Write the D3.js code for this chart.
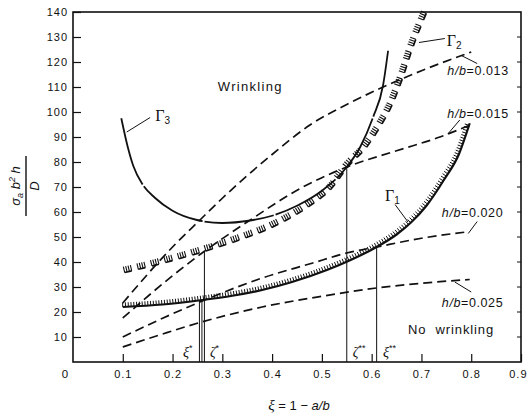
<!DOCTYPE html>
<html>
<head>
<meta charset="utf-8">
<script src="https://cdn.jsdelivr.net/npm/d3@7"></script>
<style>
  body { margin: 0; background: #fff; }
  svg text { font-family: "Liberation Sans", Arial, sans-serif; fill: #111; }
  .tick text { font-size: 11px; letter-spacing: 1px; }
</style>
</head>
<body>
<svg width="528" height="416"></svg>
<script>
// tick values
const xTicks = [0.1, 0.2, 0.3, 0.4, 0.5, 0.6, 0.7, 0.8, 0.9];
const yTicks = [10, 20, 30, 40, 50, 60, 70, 80, 90, 100, 110, 120, 130, 140];

// boundary curves (xi, value)
const gamma1Xi = [0.1, 0.18, 0.26, 0.32, 0.38, 0.44, 0.51, 0.56, 0.61, 0.65, 0.68, 0.71, 0.745, 0.775, 0.797];
const gamma1V  = [22, 23, 24.8, 26.5, 28.8, 32, 36.8, 41, 46, 51, 56, 62.5, 72.8, 83, 95.5];

const gamma2Xi = [0.1, 0.18, 0.26, 0.33, 0.39, 0.44, 0.476, 0.52, 0.552, 0.59, 0.617, 0.643, 0.663, 0.683, 0.711];
const gamma2V  = [35.6, 39.5, 44, 48.5, 53, 58, 62.5, 69.5, 78, 86, 94, 103.6, 114, 126, 140];

const gamma3Xi = [0.097, 0.11, 0.121, 0.14, 0.165, 0.2, 0.249, 0.3, 0.356, 0.4, 0.45, 0.502, 0.55, 0.577, 0.603, 0.623, 0.633];
const gamma3V  = [97.5, 86, 78.5, 71, 65.6, 60.5, 56.8, 55.6, 56.6, 58.5, 62.5, 68.8, 78, 86, 98, 110.8, 124.5];

// constant h/b curves
const hb013Xi = [0.1, 0.2, 0.255, 0.3, 0.4, 0.476, 0.55, 0.623, 0.7, 0.8];
const hb013V  = [23.6, 46, 56.8, 65.5, 83, 94.8, 103, 110, 116.5, 124];

const hb015Xi = [0.1, 0.2, 0.262, 0.35, 0.462, 0.55, 0.65, 0.737, 0.8];
const hb015V  = [17.6, 34.5, 44, 56, 70, 78, 84.5, 90, 95];

const hb020Xi = [0.1, 0.18, 0.255, 0.38, 0.48, 0.55, 0.61, 0.7, 0.79];
const hb020V  = [10, 17.5, 24, 33.6, 39.5, 43.6, 46, 49.5, 52];

const hb025Xi = [0.1, 0.18, 0.255, 0.38, 0.5, 0.61, 0.7, 0.797];
const hb025V  = [6, 11.2, 15.8, 22, 26.3, 29.6, 31.5, 33];

// critical points (vertical lines down to the axis)
const critXi = [0.254, 0.259, 0.264, 0.55, 0.61];
const critV  = [24.8, 24.8, 44, 78, 46];

const svg = d3.select("svg");
const x = d3.scaleLinear().domain([0, 0.9]).range([73, 521]);
const y = d3.scaleLinear().domain([0, 140]).range([362, 12]);

// frame
svg.append("rect")
  .attr("x", x(0)).attr("y", y(140))
  .attr("width", x(0.9) - x(0)).attr("height", y(0) - y(140))
  .attr("fill", "none").attr("stroke", "#111").attr("stroke-width", 1.6);

// axes
const xAxis = d3.axisBottom(x).tickValues(xTicks).tickSize(-8).tickPadding(8)
  .tickFormat(d3.format(".1f"));
const yAxis = d3.axisLeft(y).tickValues(yTicks).tickSize(-8).tickPadding(5)
  .tickFormat(d3.format("d"));

const gx = svg.append("g").attr("transform", "translate(0," + y(0) + ")").call(xAxis);
const gy = svg.append("g").attr("transform", "translate(" + x(0) + ",0)").call(yAxis);
[gx, gy].forEach(g => {
  g.select(".domain").remove();
  g.selectAll("line").attr("stroke", "#111").attr("stroke-width", 1.2);
  g.selectAll("text").attr("fill", "#111");
});
gx.selectAll("text").attr("font-size", 11.5);
gy.selectAll("text").attr("font-size", 11.5);
// last x label sits against the page edge
gx.selectAll(".tick text").filter(d => d === 0.9).attr("text-anchor", "end").attr("x", 6);

// right side inner ticks
svg.append("g").selectAll("line").data(yTicks.slice(0, -1)).join("line")
  .attr("x1", x(0.9)).attr("x2", x(0.9) - 4)
  .attr("y1", d => y(d)).attr("y2", d => y(d))
  .attr("stroke", "#111").attr("stroke-width", 1);

svg.append("text").attr("x", 65).attr("y", 378).attr("text-anchor", "middle")
  .attr("font-size", 11.5).text("0");

// axis titles
svg.append("text").attr("x", 299).attr("y", 410).attr("text-anchor", "middle")
  .attr("font-size", 13)
  .html('<tspan font-family="Liberation Serif" font-style="italic" font-size="15">ξ</tspan> = 1 − <tspan font-style="italic">a/b</tspan>');

const yl = svg.append("g").attr("transform", "translate(26,186) rotate(-90)");
yl.append("line").attr("x1", -30).attr("x2", 30).attr("y1", 0).attr("y2", 0)
  .attr("stroke", "#111").attr("stroke-width", 1.4);
yl.append("text").attr("x", 0).attr("y", -6).attr("text-anchor", "middle")
  .attr("font-size", 13).attr("font-style", "italic").attr("font-family", "Liberation Serif")
  .html('σ<tspan font-size="9" dy="3">a</tspan><tspan dy="-3">  b</tspan><tspan font-size="9" dy="-5">2</tspan><tspan dy="5"> h</tspan>');
yl.append("text").attr("x", 0).attr("y", 13).attr("text-anchor", "middle")
  .attr("font-size", 13).attr("font-style", "italic").attr("font-family", "Liberation Serif")
  .text("D");

function zipPts(xs, vs) { return xs.map((d, i) => [d, vs[i]]); }
const line = d3.line().x(d => x(d[0])).y(d => y(d[1])).curve(d3.curveMonotoneX);

// dashed h/b curves
[[hb013Xi, hb013V], [hb015Xi, hb015V], [hb020Xi, hb020V], [hb025Xi, hb025V]].forEach(([xs, vs]) => {
  svg.append("path").attr("d", line(zipPts(xs, vs)))
    .attr("fill", "none").attr("stroke", "#111").attr("stroke-width", 1.7)
    .attr("stroke-dasharray", "9,5");
});

// gamma 3
svg.append("path").attr("d", line(zipPts(gamma3Xi, gamma3V)))
  .attr("fill", "none").attr("stroke", "#111").attr("stroke-width", 1.8)
  .attr("stroke-dasharray", "70,2");

// hatched curves
function hatch(xs, vs, opts) {
  const p = svg.append("path").attr("d", line(zipPts(xs, vs)))
    .attr("fill", "none").attr("stroke", opts.base ? "#111" : "none")
    .attr("stroke-width", opts.base || 0);
  const node = p.node();
  const L = node.getTotalLength();
  const g = svg.append("g").attr("stroke", "#111").attr("stroke-width", opts.w);
  const pt = l => node.getPointAtLength(Math.max(0, Math.min(L, l)));
  const tick = l => {
    const a = pt(l - 0.5), b = pt(l + 0.5);
    let tx = b.x - a.x, ty = b.y - a.y;
    const n = Math.hypot(tx, ty) || 1; tx /= n; ty /= n;
    const q = pt(l);
    g.append("line").attr("x1", q.x).attr("y1", q.y)
      .attr("x2", q.x + ty * opts.len).attr("y2", q.y - tx * opts.len);
  };
  if (opts.group) {
    for (let l = 2; l < L - 4; l += opts.step) {
      const a = pt(l), b = pt(l + opts.group * opts.gap);
      g.append("line").attr("x1", a.x).attr("y1", a.y).attr("x2", b.x).attr("y2", b.y)
        .attr("stroke-width", 1.6);
      for (let k = 0; k <= opts.group; k++) tick(l + k * opts.gap);
    }
  } else {
    for (let l = 0; l <= L; l += opts.step) tick(l);
  }
}
hatch(gamma1Xi, gamma1V, { base: 2.2, step: 2.8, len: 4.5, w: 1 });
hatch(gamma2Xi, gamma2V, { base: 0, step: 14, len: 6, w: 1.1, group: 3, gap: 2.4 });

// critical vertical lines
svg.append("g").selectAll("line").data(critXi).join("line")
  .attr("x1", d => x(d)).attr("x2", d => x(d))
  .attr("y1", (d, i) => y(critV[i])).attr("y2", y(0))
  .attr("stroke", "#111").attr("stroke-width", 1);

// labels
const lab = (xi, v, html, size, extra) => {
  const t = svg.append("text").attr("x", x(xi)).attr("y", y(v)).attr("font-size", size).html(html);
  if (extra) extra(t);
  return t;
};
const leader = (x1, v1, x2, v2) => svg.append("line")
  .attr("x1", x(x1)).attr("y1", y(v1)).attr("x2", x(x2)).attr("y2", y(v2))
  .attr("stroke", "#111").attr("stroke-width", 1);

lab(0.291, 108.6, "Wrinkling", 13, t => t.attr("letter-spacing", 1.3));
lab(0.673, 11.2, "No&#160;&#160;wrinkling", 13, t => t.attr("letter-spacing", 0.9));

const gam = sub => '<tspan font-family="Liberation Serif" font-size="16">Γ</tspan><tspan font-size="10" dy="3">' + sub + '</tspan>';
lab(0.165, 96.5, gam("3"), 16); leader(0.108, 92, 0.155, 97.8);
lab(0.751, 126.4, gam("2"), 16); leader(0.695, 127.8, 0.747, 129.4);
lab(0.627, 64.3, gam("1"), 16); leader(0.647, 63, 0.673, 56);

const hb = v => '<tspan font-style="italic">h/b</tspan>=' + v;
lab(0.752, 114.8, hb("0.013"), 12.5, t => t.attr("letter-spacing", 0.6)); leader(0.812, 119.4, 0.78, 122.6);
lab(0.752, 97.6, hb("0.015"), 12.5, t => t.attr("letter-spacing", 0.6)); leader(0.777, 96.8, 0.753, 91.2);
lab(0.741, 58, hb("0.020"), 12.5, t => t.attr("letter-spacing", 0.6)); leader(0.812, 56.2, 0.794, 51.4);
lab(0.741, 22, hb("0.025"), 12.5, t => t.attr("letter-spacing", 0.6)); leader(0.80, 28, 0.767, 32);

const star = (sym, s) => '<tspan font-family="Liberation Serif" font-style="italic" font-size="14">' + sym + '</tspan><tspan font-size="9" dy="-6">' + s + '</tspan>';
lab(0.221, 2, star("ξ", "*"), 14);
lab(0.275, 2, star("ζ", "*"), 14);
lab(0.562, 2, star("ζ", "**"), 14);
lab(0.623, 2, star("ξ", "**"), 14);
</script>
</body>
</html>
